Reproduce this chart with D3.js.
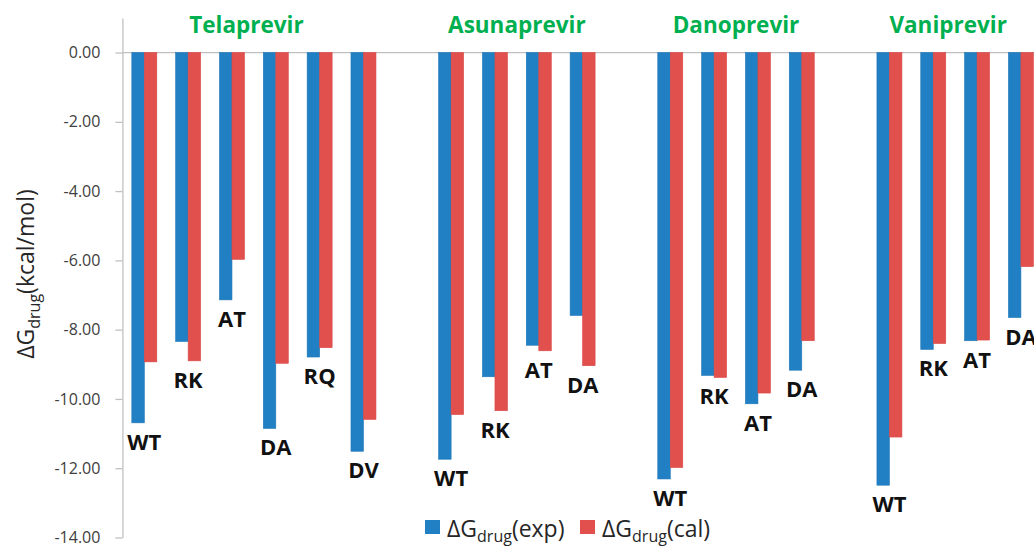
<!DOCTYPE html>
<html>
<head>
<meta charset="utf-8">
<script src="https://cdn.jsdelivr.net/npm/d3@7"></script>
<style>
  html, body { margin: 0; padding: 0; background: #fff; }
  svg { display: block; font-family: "Open Sans", "Noto Sans", sans-serif; }
</style>
</head>
<body>
<svg id="chart" width="1034" height="548"></svg>
<script>
// ---- data ----
const drugs = ["Telaprevir", "Asunaprevir", "Danoprevir", "Vaniprevir"];
const mutants = [
  ["WT", "RK", "AT", "DA", "RQ", "DV"],
  ["WT", "RK", "AT", "DA"],
  ["WT", "RK", "AT", "DA"],
  ["WT", "RK", "AT", "DA"]
];
const expValues = [
  [-10.69, -8.34, -7.14, -10.85, -8.79, -11.51],
  [-11.74, -9.36, -8.45, -7.59],
  [-12.31, -9.32, -10.14, -9.17],
  [-12.49, -8.57, -8.32, -7.65]
];
const calValues = [
  [-8.93, -8.90, -5.97, -8.97, -8.52, -10.59],
  [-10.45, -10.34, -8.61, -9.04],
  [-11.98, -9.38, -9.83, -8.32],
  [-11.10, -8.40, -8.30, -6.18]
];
const seriesNames = ["exp", "cal"];
const yTicks = [0, -2, -4, -6, -8, -10, -12, -14];
const titleOffsets = [-0.17, 0, 0, -0.16]; // title shift, in category steps, from group centre

// ---- build slot list (groups separated by an empty slot) ----
const slots = [];
const rows = [];
const groups = [];
drugs.forEach((d, gi) => {
  const keys = [];
  mutants[gi].forEach((m, mi) => {
    const key = d + "|" + m;
    slots.push(key);
    keys.push(key);
    rows.push({ key, drug: d, mutant: m, exp: expValues[gi][mi], cal: calValues[gi][mi] });
  });
  groups.push({ drug: d, keys, offset: titleOffsets[gi] });
  if (gi < drugs.length - 1) slots.push("gap" + gi);
});

// ---- layout ----
const W = 1034, H = 548;
const step = 43.83;
const x0 = 122.4;
const svg = d3.select("#chart");

const x = d3.scaleBand()
  .domain(slots)
  .range([x0, x0 + step * slots.length])
  .paddingInner(0.43)
  .paddingOuter(0.215);

const xs = d3.scaleBand().domain(seriesNames).range([0, x.bandwidth()]);

const y = d3.scaleLinear().domain([-14, 1]).range([537.5, 17.9]);

const colors = { exp: "#2180c4", cal: "#e2504e" };
const strokes = { exp: "#1f76b8", cal: "#d94846" };

// y axis
const fmt = d => d.toFixed(2);
const yAxis = d3.axisLeft(y).tickValues(yTicks).tickFormat(fmt).tickSize(7).tickPadding(15).tickSizeOuter(0);
const gy = svg.append("g").attr("transform", `translate(${x0},0)`).call(yAxis);
gy.select(".domain").attr("stroke", "#c0c0c0").attr("stroke-width", 1.3);
gy.selectAll(".tick line").attr("stroke", "#c0c0c0").attr("stroke-width", 1.3);
gy.selectAll(".tick text").attr("fill", "#404040").style("font-size", "16px").style("font-family", "'Open Sans', sans-serif");

// zero (category) axis line
svg.append("line")
  .attr("x1", x0).attr("x2", W)
  .attr("y1", y(0)).attr("y2", y(0))
  .attr("stroke", "#c0c0c0").attr("stroke-width", 1.3);

// bars
const bars = svg.append("g");
rows.forEach(r => {
  seriesNames.forEach(s => {
    bars.append("rect")
      .attr("x", x(r.key) + xs(s))
      .attr("y", y(0))
      .attr("width", xs.bandwidth())
      .attr("height", y(r[s]) - y(0))
      .attr("fill", colors[s])
      .attr("stroke", strokes[s])
      .attr("stroke-width", 0.6);
  });
});

// mutant labels
svg.append("g").selectAll("text").data(rows).join("text")
  .attr("x", d => x(d.key) + x.bandwidth() / 2)
  .attr("y", d => y(Math.min(d.exp, d.cal)) + 27)
  .attr("text-anchor", "middle")
  .attr("fill", "#111")
  .style("font-size", "22px")
  .style("font-weight", "bold")
  .text(d => d.mutant);

// drug titles
svg.append("g").selectAll("text").data(groups).join("text")
  .attr("x", g => {
    const a = x(g.keys[0]), b = x(g.keys[g.keys.length - 1]) + x.bandwidth();
    return (a + b) / 2 + g.offset * step;
  })
  .attr("y", 33)
  .attr("text-anchor", "middle")
  .attr("fill", "#00b050")
  .style("font-size", "22.5px")
  .style("font-weight", "bold")
  .text(g => g.drug);

// y axis title
const yt = svg.append("text")
  .attr("transform", "translate(34,274) rotate(-90)")
  .attr("text-anchor", "middle")
  .attr("fill", "#262626")
  .style("font-size", "23px");
yt.append("tspan").text("ΔG");
yt.append("tspan").attr("dy", 6).style("font-size", "16px").text("drug");
yt.append("tspan").attr("dy", -6).text("(kcal/mol)");

// legend
const legendItems = [
  { s: "exp", label: "(exp)", x: 425 },
  { s: "cal", label: "(cal)", x: 580 }
];
const lg = svg.append("g");
legendItems.forEach(it => {
  lg.append("rect").attr("x", it.x).attr("y", 520).attr("width", 15).attr("height", 14).attr("fill", colors[it.s]);
  const t = lg.append("text").attr("x", it.x + 22).attr("y", 537).attr("fill", "#262626").style("font-size", "23px");
  t.append("tspan").text("ΔG");
  t.append("tspan").attr("dy", 5).style("font-size", "16px").text("drug");
  t.append("tspan").attr("dy", -5).text(it.label);
});
</script>
</body>
</html>
